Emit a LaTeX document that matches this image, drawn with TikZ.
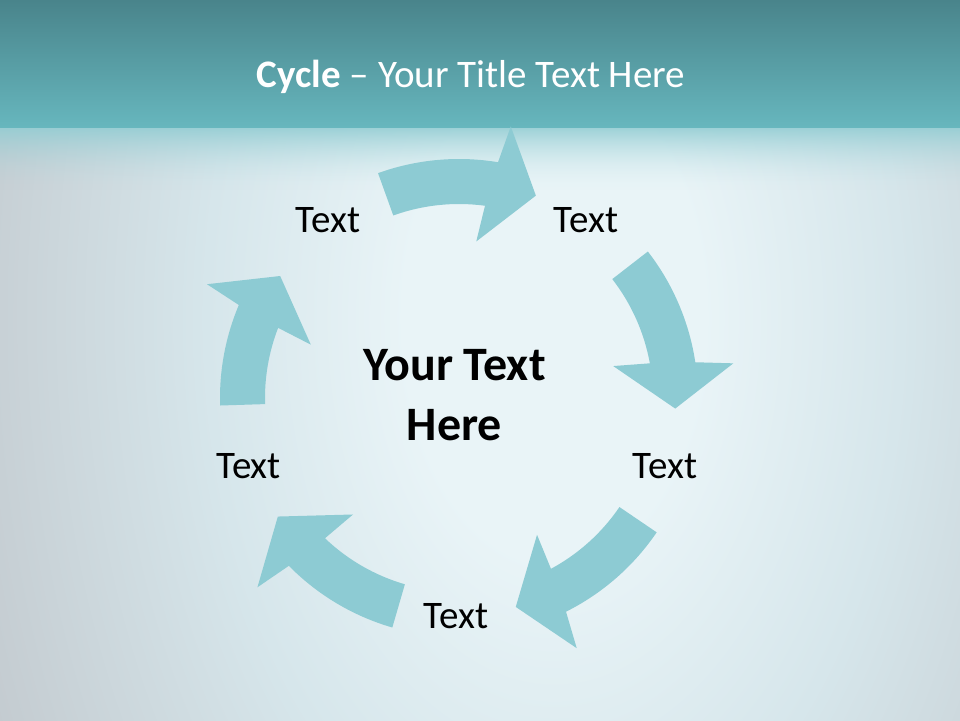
\documentclass[tikz,border=0pt]{standalone}
\usepackage{fontspec}
\setmainfont{Carlito}
\definecolor{bgc}{RGB}{195,202,207}
\definecolor{glowc}{RGB}{233,244,247}
\definecolor{glowmid}{RGB}{214,230,235}
\definecolor{bandtop}{RGB}{73,132,139}
\definecolor{bandbot}{RGB}{103,183,190}
\definecolor{fadec}{RGB}{145,204,210}
\definecolor{arrowc}{RGB}{141,203,211}
\pgfdeclareradialshading{glowshade}{\pgfpoint{0bp}{0bp}}{color(0bp)=(glowc); color(6bp)=(glowc); color(14bp)=(glowmid); color(25bp)=(bgc); color(50bp)=(bgc)}
\tikzset{
  cyclearrow/.style={fill=arrowc, draw=none},
  lbl/.style={font=\fontsize{39}{47}\selectfont, text=black, anchor=base, inner sep=0pt},
  centerlbl/.style={font=\bfseries\fontsize{48}{60}\selectfont, text=black, anchor=base, inner sep=0pt, align=center},
  titlelbl/.style={font=\fontsize{39}{47}\selectfont, text=white, anchor=base, inner sep=0pt}
}
\begin{document}
\begin{tikzpicture}[x=1pt,y=1pt]
\useasboundingbox (-459,-322) rectangle (501,398);
\begin{scope}
\clip (-459,-322) rectangle (501,398);
\fill[bgc] (-459,-322) rectangle (501,398);
\shade[shading=glowshade] (95,80) ellipse [x radius=620, y radius=1000];
\shade[top color=bandtop, bottom color=bandbot] (-459,270) rectangle (501,398);
\foreach \i in {0,...,64} {
  \pgfmathsetmacro\op{0.85*(1-\i/65)^2}
  \fill[fadec, opacity=\op] (-459,{270-\i}) rectangle (501,{269-\i});
}
\end{scope}
\foreach \r/\h in {0/0,-72/0,-144/0,-216/0,-288/4.5} {
  \fill[cyclearrow, rotate=\r] (109.8:239) arc[start angle=109.8, end angle={80.6+\h}, radius=239]
    -- ({79.2+\h}:276.5) -- ({69.2+\h}:216.5) -- ({83.7+\h}:157.5) -- ({82.3+\h}:194)
    arc[start angle={82.3+\h}, end angle=109.8, radius=194] -- cycle;
}
\node[titlelbl] (title) at (12,310) {\textbf{Cycle} – Your Title Text Here};
\node[lbl] (t1) at (-131,165) {Text};
\node[lbl] (t2) at (127,165) {Text};
\node[lbl] (t3) at (206,-80.3) {Text};
\node[lbl] (t4) at (-3,-230.3) {Text};
\node[lbl] (t5) at (-210.2,-80.3) {Text};
\node[centerlbl] (mid) at (-4.5,-42) {Your Text\\Here};
\end{tikzpicture}
\end{document}
